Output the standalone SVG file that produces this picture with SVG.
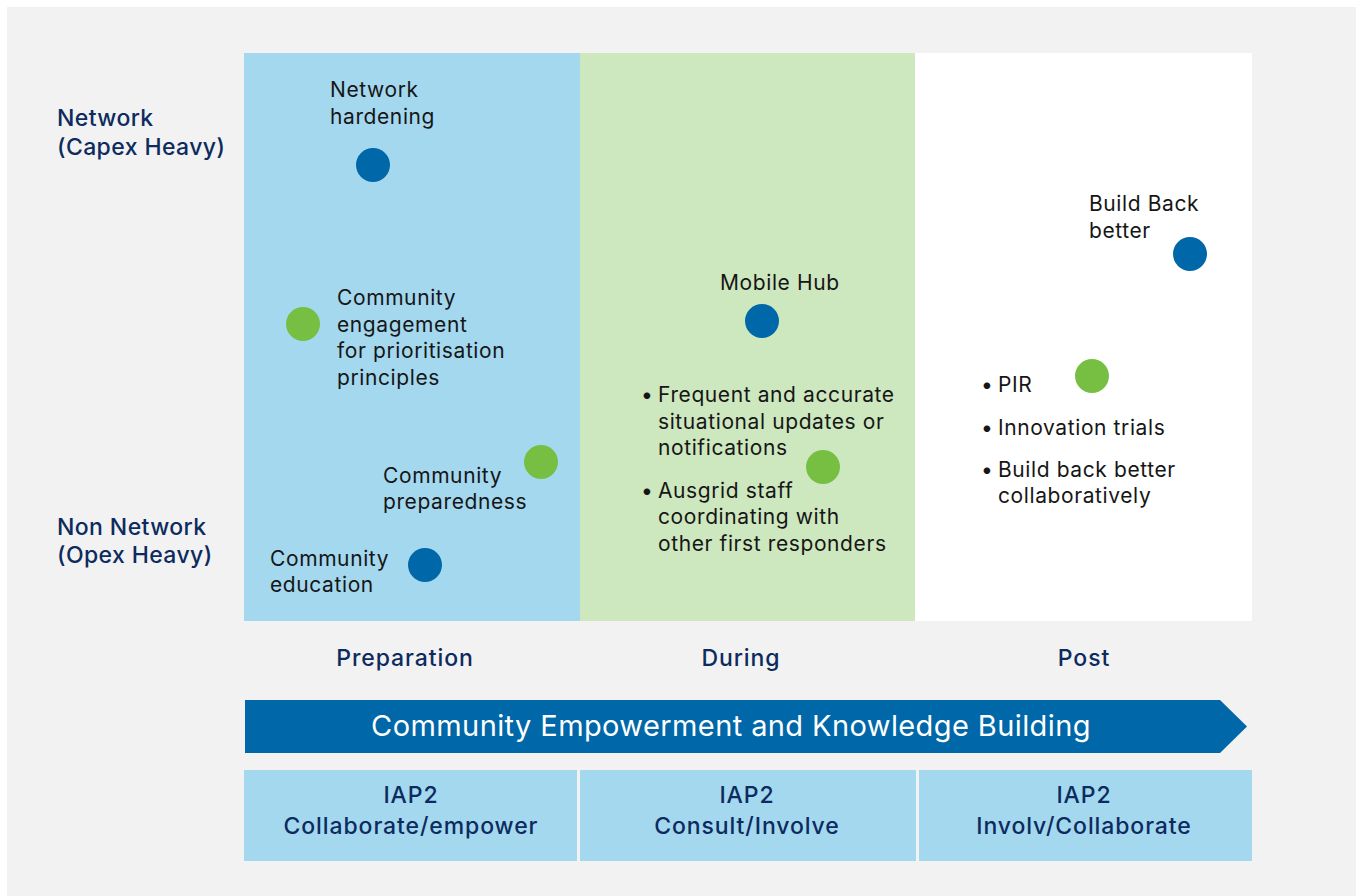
<svg xmlns="http://www.w3.org/2000/svg" width="1356" height="896" viewBox="0 0 1356 896">
  <style>
    .hdr { font-family: Inter, "Open Sans", "Liberation Sans", sans-serif; font-size: 23px; font-weight: 500; fill: #0d2b5e; letter-spacing: 0.9px; }
    .axis { letter-spacing: 0.4px; }
    .lbl { font-family: Inter, "Open Sans", "Liberation Sans", sans-serif; font-size: 21px; fill: #161616; letter-spacing: 0.6px; }
    .ctr { text-anchor: middle; }
    .band { font-family: Inter, "Open Sans", "Liberation Sans", sans-serif; font-size: 29px; fill: #ffffff; text-anchor: middle; letter-spacing: 0.4px; }
    .dot-blue { fill: #0067a8; }
    .dot-green { fill: #76bf43; }
  </style>

  <!-- page background -->
  <rect x="0" y="0" width="1356" height="896" fill="#ffffff"/>
  <rect x="7" y="7" width="1349" height="889" fill="#f2f2f2"/>

  <!-- phase columns -->
  <g id="columns">
    <rect x="244" y="53" width="336" height="568" fill="#a3d8ef"/>
    <rect x="580" y="53" width="335" height="568" fill="#cde7be"/>
    <rect x="915" y="53" width="337" height="568" fill="#ffffff"/>
  </g>

  <!-- axis labels -->
  <g id="axis-network">
    <text class="hdr axis" x="57" y="126">Network</text>
    <text class="hdr axis" x="57" y="155">(Capex Heavy)</text>
  </g>
  <g id="axis-non-network">
    <text class="hdr axis" x="57" y="535">Non Network</text>
    <text class="hdr axis" x="57" y="563">(Opex Heavy)</text>
  </g>

  <!-- preparation items -->
  <g id="network-hardening">
    <text class="lbl" x="330" y="97">Network</text>
    <text class="lbl" x="330" y="124">hardening</text>
    <circle class="dot-blue" cx="373" cy="165" r="17"/>
  </g>
  <g id="community-engagement">
    <circle class="dot-green" cx="303" cy="324" r="17"/>
    <text class="lbl" x="337" y="305">Community</text>
    <text class="lbl" x="337" y="332">engagement</text>
    <text class="lbl" x="337" y="358">for prioritisation</text>
    <text class="lbl" x="337" y="385">principles</text>
  </g>
  <g id="community-preparedness">
    <text class="lbl" x="383" y="483">Community</text>
    <text class="lbl" x="383" y="509">preparedness</text>
    <circle class="dot-green" cx="541" cy="462" r="17"/>
  </g>
  <g id="community-education">
    <text class="lbl" x="270" y="566">Community</text>
    <text class="lbl" x="270" y="592">education</text>
    <circle class="dot-blue" cx="425" cy="565" r="17"/>
  </g>

  <!-- during items -->
  <g id="mobile-hub">
    <text class="lbl" x="720" y="290">Mobile Hub</text>
    <circle class="dot-blue" cx="762" cy="321" r="17"/>
  </g>
  <g id="during-actions">
    <text class="lbl" x="641" y="402">•</text>
    <text class="lbl" x="658" y="402">Frequent and accurate</text>
    <text class="lbl" x="658" y="429">situational updates or</text>
    <text class="lbl" x="658" y="455">notifications</text>
    <circle class="dot-green" cx="823" cy="467" r="17"/>
    <text class="lbl" x="641" y="498">•</text>
    <text class="lbl" x="658" y="498">Ausgrid staff</text>
    <text class="lbl" x="658" y="524">coordinating with</text>
    <text class="lbl" x="658" y="551">other first responders</text>
  </g>

  <!-- post items -->
  <g id="build-back-better">
    <text class="lbl" x="1089" y="211">Build Back</text>
    <text class="lbl" x="1089" y="238">better</text>
    <circle class="dot-blue" cx="1190" cy="254" r="17"/>
  </g>
  <g id="post-actions">
    <circle class="dot-green" cx="1092" cy="376" r="17"/>
    <text class="lbl" x="981" y="392">•</text>
    <text class="lbl" x="998" y="392">PIR</text>
    <text class="lbl" x="981" y="435">•</text>
    <text class="lbl" x="998" y="435">Innovation trials</text>
    <text class="lbl" x="981" y="477">•</text>
    <text class="lbl" x="998" y="477">Build back better</text>
    <text class="lbl" x="998" y="503">collaboratively</text>
  </g>

  <!-- phase titles -->
  <g id="phase-titles">
    <text class="hdr ctr" x="405" y="666">Preparation</text>
    <text class="hdr ctr" x="741" y="666">During</text>
    <text class="hdr ctr" x="1084" y="666">Post</text>
  </g>

  <!-- empowerment band -->
  <g id="empowerment-band">
    <polygon points="245,700 1220,700 1247,726.5 1220,753 245,753" fill="#0067a8"/>
    <text class="band" x="731" y="736">Community Empowerment and Knowledge Building</text>
  </g>

  <!-- IAP2 levels -->
  <g id="iap2-preparation">
    <rect x="244" y="770" width="333" height="91" fill="#a3d8ef"/>
    <text class="hdr ctr" x="411" y="803">IAP2</text>
    <text class="hdr ctr" x="411" y="834">Collaborate/empower</text>
  </g>
  <g id="iap2-during">
    <rect x="580" y="770" width="336" height="91" fill="#a3d8ef"/>
    <text class="hdr ctr" x="747" y="803">IAP2</text>
    <text class="hdr ctr" x="747" y="834">Consult/Involve</text>
  </g>
  <g id="iap2-post">
    <rect x="919" y="770" width="333" height="91" fill="#a3d8ef"/>
    <text class="hdr ctr" x="1084" y="803">IAP2</text>
    <text class="hdr ctr" x="1084" y="834">Involv/Collaborate</text>
  </g>
</svg>
